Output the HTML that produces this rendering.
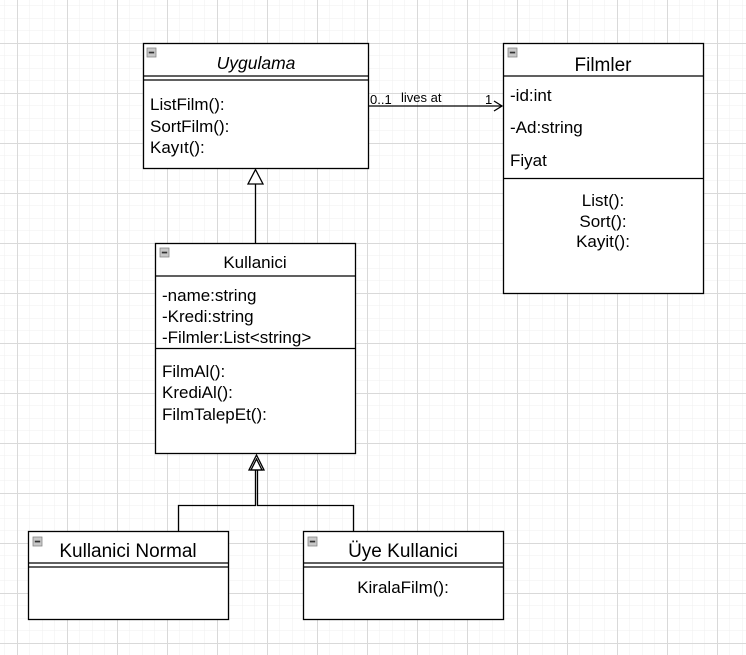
<!DOCTYPE html>
<html><head><meta charset="utf-8"><style>
html,body{margin:0;padding:0;background:#fff;}
svg{display:block;}
text{font-family:"Liberation Sans",Arial,sans-serif;fill:#000;}
</style></head><body>
<svg width="746" height="655" viewBox="0 0 746 655" xmlns="http://www.w3.org/2000/svg">
<defs>
<pattern id="minor" width="12.5" height="12.5" patternUnits="userSpaceOnUse" x="4.5" y="5.5">
<path d="M0 0H12.5M0 0V12.5" stroke="#efefef" stroke-width="1" fill="none"/>
</pattern>
<pattern id="major" width="50" height="50" patternUnits="userSpaceOnUse" x="17" y="43">
<path d="M0 0.5H50M0.5 0V50" stroke="#d9d9d9" stroke-width="1" fill="none"/>
</pattern>
<g id="ic"><rect x="0" y="0" width="9" height="9" fill="#c8c8c8" stroke="#888" stroke-width="0.8"/><rect x="1.8" y="3.7" width="5.4" height="1.7" fill="#333"/></g>
</defs>
<rect width="746" height="655" fill="url(#minor)"/>
<rect width="746" height="655" fill="url(#major)"/>

<g stroke="#000" stroke-width="1.3" fill="none">
<rect x="143.5" y="43.5" width="225" height="125" fill="#fff"/>
<line x1="143.5" y1="76" x2="368.5" y2="76"/>
<line x1="143.5" y1="80" x2="368.5" y2="80"/>
<rect x="503.5" y="43.5" width="200" height="250" fill="#fff"/>
<line x1="503.5" y1="76" x2="703.5" y2="76"/>
<line x1="503.5" y1="178.5" x2="703.5" y2="178.5"/>
<rect x="155.5" y="243.5" width="200" height="210" fill="#fff"/>
<line x1="155.5" y1="276" x2="355.5" y2="276"/>
<line x1="155.5" y1="348.5" x2="355.5" y2="348.5"/>
<rect x="28.5" y="531.5" width="200" height="88" fill="#fff"/>
<line x1="28.5" y1="563" x2="228.5" y2="563"/>
<line x1="28.5" y1="567" x2="228.5" y2="567"/>
<rect x="303.5" y="531.5" width="200" height="88" fill="#fff"/>
<line x1="303.5" y1="563" x2="503.5" y2="563"/>
<line x1="303.5" y1="567" x2="503.5" y2="567"/>
<line x1="368.5" y1="106" x2="502" y2="106"/>
<polyline points="494,101 502,106 494,111"/>
<line x1="255.5" y1="184" x2="255.5" y2="243.5"/>
<polygon points="255.5,169.5 248,184 263,184" fill="#fff"/>
<polyline points="178.5,531.5 178.5,505.5 255.5,505.5 255.5,470"/>
<polyline points="353.5,531.5 353.5,505.5 257.5,505.5 257.5,470"/>
<polygon points="256.5,455 249,470 264,470" fill="#fff"/>
<polygon points="256.5,459 251,470 262,470" fill="none"/>
</g>

<use href="#ic" x="147" y="48"/>
<use href="#ic" x="508" y="48"/>
<use href="#ic" x="160" y="248"/>
<use href="#ic" x="33" y="537"/>
<use href="#ic" x="308" y="537"/>

<text x="256" y="69" font-size="17.5" font-style="italic" text-anchor="middle">Uygulama</text>
<text x="150" y="110" font-size="17">ListFilm():</text>
<text x="150" y="132" font-size="17">SortFilm():</text>
<text x="150" y="153" font-size="17">Kayıt():</text>

<text x="603" y="71" font-size="19" text-anchor="middle">Filmler</text>
<text x="510" y="101" font-size="17">-id:int</text>
<text x="510" y="133" font-size="17">-Ad:string</text>
<text x="510" y="166" font-size="17">Fiyat</text>
<text x="603" y="206" font-size="17" text-anchor="middle">List():</text>
<text x="603" y="227" font-size="17" text-anchor="middle">Sort():</text>
<text x="603" y="247" font-size="17" text-anchor="middle">Kayit():</text>

<text x="255" y="268" font-size="17" text-anchor="middle">Kullanici</text>
<text x="162" y="301" font-size="17">-name:string</text>
<text x="162" y="322" font-size="17">-Kredi:string</text>
<text x="162" y="343" font-size="17">-Filmler:List&lt;string&gt;</text>
<text x="162" y="377" font-size="17">FilmAl():</text>
<text x="162" y="398" font-size="17">KrediAl():</text>
<text x="162" y="420" font-size="17">FilmTalepEt():</text>

<text x="128" y="557" font-size="19" text-anchor="middle">Kullanici Normal</text>
<text x="403" y="557" font-size="19" text-anchor="middle">Üye Kullanici</text>
<text x="403" y="593" font-size="17" text-anchor="middle">KiralaFilm():</text>

<text x="370" y="104" font-size="13">0..1</text>
<text x="401" y="102" font-size="13">lives at</text>
<text x="485" y="104" font-size="13">1</text>
</svg>
</body></html>
